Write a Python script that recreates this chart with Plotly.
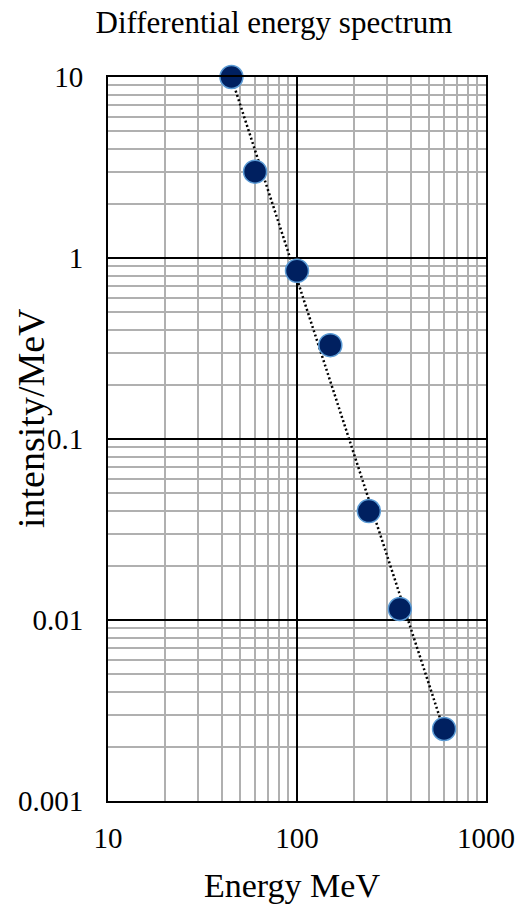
import numpy as np
import plotly.graph_objects as go

energy = [45, 60, 100, 150, 240, 350, 600]
intensity = [10, 3, 0.85, 0.33, 0.04, 0.0115, 0.0025]

# power-law trendline (least squares in log-log space)
b, a = np.polyfit(np.log10(energy), np.log10(intensity), 1)
trend_x = [min(energy), max(energy)]
trend_y = [10 ** (a + b * np.log10(v)) for v in trend_x]

font = "Liberation Serif, Times New Roman, serif"
W, H = 532, 904

fig = go.Figure()
fig.add_trace(go.Scatter(x=trend_x, y=trend_y, mode="lines",
                         line=dict(color="black", width=2.5, dash="2px,2.5px"),
                         hoverinfo="skip", showlegend=False))
fig.add_trace(go.Scatter(x=energy, y=intensity, mode="markers",
                         marker=dict(size=23, color="#002060",
                                     line=dict(color="#5b9bd5", width=1.5)),
                         cliponaxis=False, showlegend=False))

axis_common = dict(
    type="log", showline=True, mirror=True, linecolor="black", linewidth=2,
    showgrid=True, gridcolor="black", gridwidth=2, dtick=1,
    minor=dict(showgrid=True, dtick="D1", gridcolor="#b0b0b0", gridwidth=2, ticks=""),
    ticks="", zeroline=False, automargin=False,
    tickfont=dict(family=font, size=29, color="black"),
)

fig.update_layout(
    width=W, height=H,
    margin=dict(l=108, r=46, t=77, b=103),
    paper_bgcolor="white", plot_bgcolor="white",
    title=dict(text="Differential energy spectrum", xref="container", x=274 / W, xanchor="center",
               yref="container", y=1 - 22 / H, yanchor="middle",
               font=dict(family=font, size=31, color="black")),
    xaxis=dict(axis_common, range=[1, 3], ticklabelstandoff=10),
    yaxis=dict(axis_common, range=[-3, 1], ticklabelstandoff=17),
    annotations=[
        dict(text="Energy MeV", xref="paper", yref="paper",
             x=(292 - 108) / (486 - 108), y=-(885 - 801) / (801 - 77),
             xanchor="center", yanchor="middle", showarrow=False,
             font=dict(family=font, size=34, color="black")),
        dict(text="intensity/MeV", xref="paper", yref="paper", textangle=-90,
             x=-(108 - 31) / (486 - 108), y=(801 - 418) / (801 - 77),
             xanchor="center", yanchor="middle", showarrow=False,
             font=dict(family=font, size=38, color="black")),
    ],
)

fig.write_html("out.html")
